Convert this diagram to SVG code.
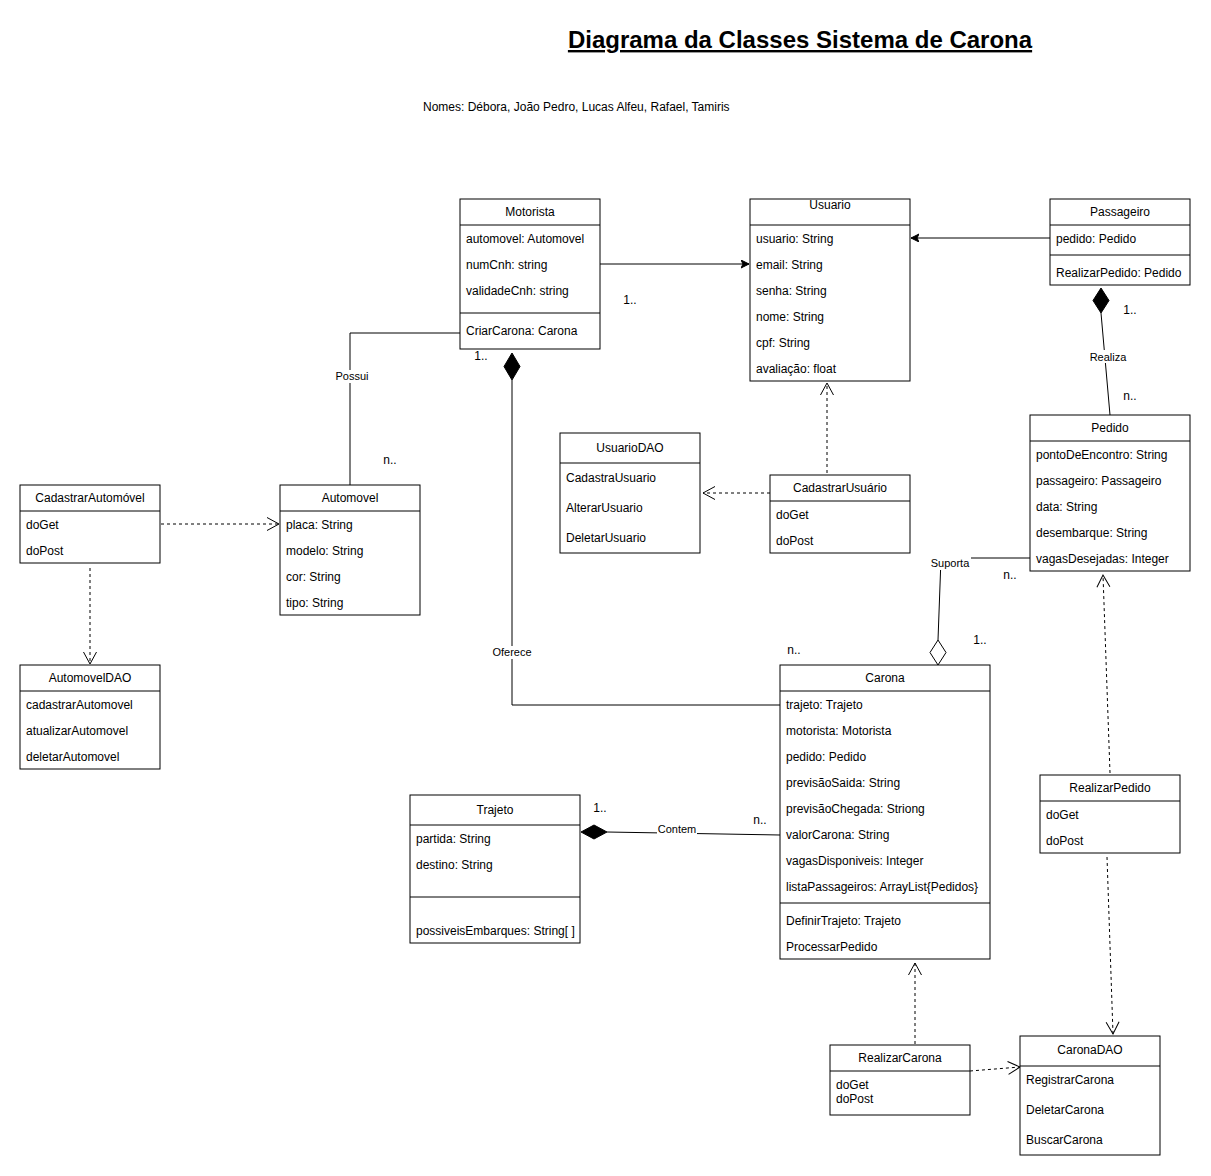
<svg xmlns="http://www.w3.org/2000/svg" width="1211" height="1176" viewBox="0 0 1211 1176">
<defs>
<style>
.box{fill:#fff;stroke:#000;stroke-width:1}
.sep{stroke:#000;stroke-width:1}
.t{font-family:"Liberation Sans",Arial,sans-serif;font-size:12px;fill:#000}
.c{text-anchor:middle}
.lbl{font-family:"Liberation Sans",Arial,sans-serif;font-size:11px;fill:#000;text-anchor:middle}
.lb{fill:#fff}
.ln{fill:none;stroke:#000;stroke-width:1}
.dash{fill:none;stroke:#000;stroke-width:1;stroke-dasharray:3,3}
</style>
<marker id="open" markerUnits="userSpaceOnUse" markerWidth="16" markerHeight="16" refX="13" refY="7" orient="auto">
<path d="M1,0.5 L13,7 L1,13.5" fill="none" stroke="#000" stroke-width="1"/>
</marker>
<marker id="fill" markerUnits="userSpaceOnUse" markerWidth="10" markerHeight="10" refX="8" refY="4" orient="auto">
<path d="M0,0 L8,4 L0,8 L2,4 z" fill="#000" stroke="#000" stroke-width="1"/>
</marker>
</defs>
<rect width="1211" height="1176" fill="#fff"/>

<text x="800" y="48" class="t c" style="font-size:24px;font-weight:bold;text-decoration:underline">Diagrama da Classes Sistema de Carona</text>
<text x="423" y="111" class="t">Nomes: Débora, João Pedro, Lucas Alfeu, Rafael, Tamiris</text>

<g id="connectors">
<!-- Motorista -> Usuario -->
<path class="ln" d="M600,264 L749,264" marker-end="url(#fill)"/>
<text x="630" y="304" class="t c">1..</text>
<!-- Passageiro -> Usuario -->
<path class="ln" d="M1050,238 L911,238" marker-end="url(#fill)"/>
<!-- Passageiro - Pedido (Realiza) -->
<path class="ln" d="M1101,313 L1110,415"/>
<polygon points="1101,288 1109,300.5 1101,313 1093,300.5" fill="#000" stroke="#000"/>
<rect x="1088" y="350" width="40" height="13" class="lb"/>
<text x="1108" y="361" class="lbl">Realiza</text>
<text x="1130" y="314" class="t c">1..</text>
<text x="1130" y="400" class="t c">n..</text>
<!-- Motorista - Automovel (Possui) -->
<path class="ln" d="M460,333 L350,333 L350,485"/>
<rect x="333" y="370" width="36" height="13" class="lb"/>
<text x="352" y="380" class="lbl">Possui</text>
<text x="390" y="464" class="t c">n..</text>
<!-- Motorista - Carona (Oferece) -->
<path class="ln" d="M512,380 L512,705 L780,705"/>
<polygon points="512,353 520,366.5 512,380 504,366.5" fill="#000" stroke="#000"/>
<rect x="491" y="646" width="42" height="13" class="lb"/>
<text x="512" y="656" class="lbl">Oferece</text>
<text x="481" y="360" class="t c">1..</text>
<text x="794" y="654" class="t c">n..</text>
<!-- Pedido - Carona (Suporta) -->
<path class="ln" d="M1030,558 L941,558 L938,640"/>
<polygon points="938,640 946,652.5 938,665 930,652.5" fill="#fff" stroke="#000"/>
<rect x="929" y="557" width="42" height="13" class="lb"/>
<text x="950" y="567" class="lbl">Suporta</text>
<text x="1010" y="579" class="t c">n..</text>
<text x="980" y="644" class="t c">1..</text>
<!-- Trajeto - Carona (Contem) -->
<path class="ln" d="M607,832 L780,835"/>
<polygon points="581,832 594,825 607,832 594,839" fill="#000" stroke="#000"/>
<rect x="657" y="824" width="40" height="12" class="lb"/>
<text x="677" y="833" class="lbl">Contem</text>
<text x="600" y="812" class="t c">1..</text>
<text x="760" y="824" class="t c">n..</text>
<!-- dashed dependencies -->
<path class="dash" d="M161,524 L279,524" marker-end="url(#open)"/>
<path class="dash" d="M90,568 L90,664" marker-end="url(#open)"/>
<path class="dash" d="M770,493 L703,493" marker-end="url(#open)"/>
<path class="dash" d="M827,473 L827,383" marker-end="url(#open)"/>
<path class="dash" d="M1110,773 L1103,575" marker-end="url(#open)"/>
<path class="dash" d="M1107,857 L1113,1034" marker-end="url(#open)"/>
<path class="dash" d="M915,1044 L915,963" marker-end="url(#open)"/>
<path class="dash" d="M970,1071 L1020,1067" marker-end="url(#open)"/>
</g>

<g id="Motorista">
<rect x="460" y="199" width="140" height="150" class="box"/>
<line x1="460" y1="225" x2="600" y2="225" class="sep"/>
<line x1="460" y1="313" x2="600" y2="313" class="sep"/>
<text x="530" y="216" class="t c">Motorista</text>
<text x="466" y="243" class="t">automovel: Automovel</text>
<text x="466" y="269" class="t">numCnh: string</text>
<text x="466" y="295" class="t">validadeCnh: string</text>
<text x="466" y="335" class="t">CriarCarona: Carona</text>
</g>

<g id="Usuario">
<rect x="750" y="199" width="160" height="182" class="box"/>
<line x1="750" y1="225" x2="910" y2="225" class="sep"/>
<text x="830" y="209" class="t c">Usuario</text>
<text x="756" y="243" class="t">usuario: String</text>
<text x="756" y="269" class="t">email: String</text>
<text x="756" y="295" class="t">senha: String</text>
<text x="756" y="321" class="t">nome: String</text>
<text x="756" y="347" class="t">cpf: String</text>
<text x="756" y="373" class="t">avaliação: float</text>
</g>

<g id="Passageiro">
<rect x="1050" y="199" width="140" height="86" class="box"/>
<line x1="1050" y1="225" x2="1190" y2="225" class="sep"/>
<line x1="1050" y1="255" x2="1190" y2="255" class="sep"/>
<text x="1120" y="216" class="t c">Passageiro</text>
<text x="1056" y="243" class="t">pedido: Pedido</text>
<text x="1056" y="277" class="t">RealizarPedido: Pedido</text>
</g>

<g id="Pedido">
<rect x="1030" y="415" width="160" height="156" class="box"/>
<line x1="1030" y1="441" x2="1190" y2="441" class="sep"/>
<text x="1110" y="432" class="t c">Pedido</text>
<text x="1036" y="459" class="t">pontoDeEncontro: String</text>
<text x="1036" y="485" class="t">passageiro: Passageiro</text>
<text x="1036" y="511" class="t">data: String</text>
<text x="1036" y="537" class="t">desembarque: String</text>
<text x="1036" y="563" class="t">vagasDesejadas: Integer</text>
</g>

<g id="CadastrarAutomovel">
<rect x="20" y="485" width="140" height="78" class="box"/>
<line x1="20" y1="511" x2="160" y2="511" class="sep"/>
<text x="90" y="502" class="t c">CadastrarAutomóvel</text>
<text x="26" y="529" class="t">doGet</text>
<text x="26" y="555" class="t">doPost</text>
</g>

<g id="Automovel">
<rect x="280" y="485" width="140" height="130" class="box"/>
<line x1="280" y1="511" x2="420" y2="511" class="sep"/>
<text x="350" y="502" class="t c">Automovel</text>
<text x="286" y="529" class="t">placa: String</text>
<text x="286" y="555" class="t">modelo: String</text>
<text x="286" y="581" class="t">cor: String</text>
<text x="286" y="607" class="t">tipo: String</text>
</g>

<g id="AutomovelDAO">
<rect x="20" y="665" width="140" height="104" class="box"/>
<line x1="20" y1="691" x2="160" y2="691" class="sep"/>
<text x="90" y="682" class="t c">AutomovelDAO</text>
<text x="26" y="709" class="t">cadastrarAutomovel</text>
<text x="26" y="735" class="t">atualizarAutomovel</text>
<text x="26" y="761" class="t">deletarAutomovel</text>
</g>

<g id="UsuarioDAO">
<rect x="560" y="433" width="140" height="120" class="box"/>
<line x1="560" y1="463" x2="700" y2="463" class="sep"/>
<text x="630" y="452" class="t c">UsuarioDAO</text>
<text x="566" y="482" class="t">CadastraUsuario</text>
<text x="566" y="512" class="t">AlterarUsuario</text>
<text x="566" y="542" class="t">DeletarUsuario</text>
</g>

<g id="CadastrarUsuario">
<rect x="770" y="475" width="140" height="78" class="box"/>
<line x1="770" y1="501" x2="910" y2="501" class="sep"/>
<text x="840" y="492" class="t c">CadastrarUsuário</text>
<text x="776" y="519" class="t">doGet</text>
<text x="776" y="545" class="t">doPost</text>
</g>

<g id="Carona">
<rect x="780" y="665" width="210" height="294" class="box"/>
<line x1="780" y1="691" x2="990" y2="691" class="sep"/>
<line x1="780" y1="903" x2="990" y2="903" class="sep"/>
<text x="885" y="682" class="t c">Carona</text>
<text x="786" y="709" class="t">trajeto: Trajeto</text>
<text x="786" y="735" class="t">motorista: Motorista</text>
<text x="786" y="761" class="t">pedido: Pedido</text>
<text x="786" y="787" class="t">previsãoSaida: String</text>
<text x="786" y="813" class="t">previsãoChegada: Striong</text>
<text x="786" y="839" class="t">valorCarona: String</text>
<text x="786" y="865" class="t">vagasDisponiveis: Integer</text>
<text x="786" y="891" class="t">listaPassageiros: ArrayList{Pedidos}</text>
<text x="786" y="925" class="t">DefinirTrajeto: Trajeto</text>
<text x="786" y="951" class="t">ProcessarPedido</text>
</g>

<g id="Trajeto">
<rect x="410" y="795" width="170" height="148" class="box"/>
<line x1="410" y1="825" x2="580" y2="825" class="sep"/>
<line x1="410" y1="897" x2="580" y2="897" class="sep"/>
<text x="495" y="814" class="t c">Trajeto</text>
<text x="416" y="843" class="t">partida: String</text>
<text x="416" y="869" class="t">destino: String</text>
<text x="416" y="935" class="t">possiveisEmbarques: String[ ]</text>
</g>

<g id="RealizarPedido">
<rect x="1040" y="775" width="140" height="78" class="box"/>
<line x1="1040" y1="801" x2="1180" y2="801" class="sep"/>
<text x="1110" y="792" class="t c">RealizarPedido</text>
<text x="1046" y="819" class="t">doGet</text>
<text x="1046" y="845" class="t">doPost</text>
</g>

<g id="RealizarCarona">
<rect x="830" y="1045" width="140" height="70" class="box"/>
<line x1="830" y1="1071" x2="970" y2="1071" class="sep"/>
<text x="900" y="1062" class="t c">RealizarCarona</text>
<text x="836" y="1089" class="t">doGet</text>
<text x="836" y="1103" class="t">doPost</text>
</g>

<g id="CaronaDAO">
<rect x="1020" y="1036" width="140" height="119" class="box"/>
<line x1="1020" y1="1066" x2="1160" y2="1066" class="sep"/>
<text x="1090" y="1054" class="t c">CaronaDAO</text>
<text x="1026" y="1084" class="t">RegistrarCarona</text>
<text x="1026" y="1114" class="t">DeletarCarona</text>
<text x="1026" y="1144" class="t">BuscarCarona</text>
</g>
</svg>
